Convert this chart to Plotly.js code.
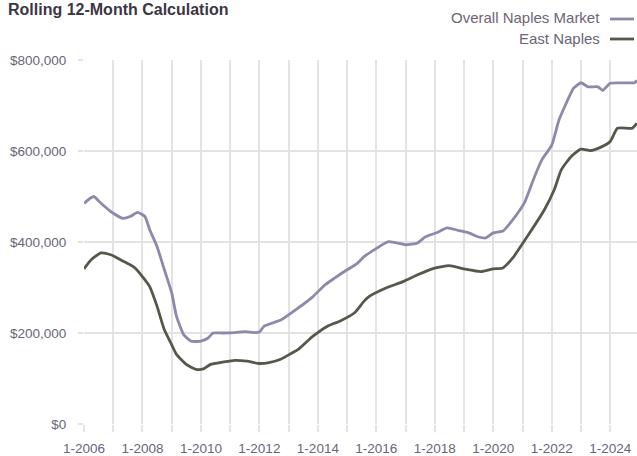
<!DOCTYPE html>
<html>
<head>
<meta charset="utf-8">
<script src="https://cdn.plot.ly/plotly-3.0.1.min.js"></script>
<style>html,body{margin:0;padding:0;background:#fff;}#chart{width:637px;height:456px;}</style>
</head>
<body>
<div id="chart"></div>
<script>
// Overall Naples Market (median price, rolling 12 months), values in $
const overallDates = ["2006-01","2006-05","2006-08","2006-12","2007-05","2007-08","2007-11","2008-02","2008-04","2008-07","2008-10","2009-01","2009-03","2009-06","2009-09","2010-01","2010-04","2010-06","2010-10","2011-03","2011-07","2011-11","2012-01","2012-03","2012-10","2013-05","2013-11","2014-04","2014-08","2015-01","2015-05","2015-08","2015-11","2016-06","2017-01","2017-06","2017-09","2018-02","2018-06","2018-11","2019-03","2019-07","2019-10","2020-01","2020-05","2020-08","2020-12","2021-02","2021-06","2021-09","2022-01","2022-04","2022-07","2022-10","2023-01","2023-04","2023-08","2023-10","2024-01","2024-11","2024-12"];
const overallValues = [485000,500000,485000,467000,452000,456000,465000,456000,427000,390000,339000,288000,237000,196000,182000,182000,189000,200000,200000,201000,203000,201000,202000,215000,229000,255000,280000,306000,321000,339000,352000,368000,379000,401000,394000,398000,411000,421000,431000,425000,420000,411000,409000,420000,424000,442000,471000,489000,544000,581000,613000,668000,705000,738000,750000,741000,741000,733000,749000,750000,755000];

// East Naples
const eastDates = ["2006-01","2006-04","2006-08","2006-12","2007-04","2007-08","2007-10","2008-01","2008-04","2008-07","2008-10","2009-01","2009-03","2009-07","2009-11","2010-02","2010-05","2010-10","2011-03","2011-08","2012-01","2012-05","2012-10","2013-02","2013-05","2013-11","2014-05","2014-10","2015-04","2015-08","2015-10","2016-05","2016-12","2017-06","2017-12","2018-07","2019-01","2019-08","2020-01","2020-05","2020-09","2021-03","2021-10","2022-02","2022-05","2022-09","2023-01","2023-05","2023-09","2024-01","2024-04","2024-10","2024-12"];
const eastValues = [341000,361000,376000,372000,361000,350000,343000,324000,302000,259000,207000,174000,153000,131000,120000,121000,131000,136000,140000,138000,133000,135000,143000,155000,164000,193000,215000,226000,244000,270000,280000,299000,313000,328000,341000,348000,341000,335000,341000,343000,365000,412000,471000,515000,559000,588000,604000,601000,608000,621000,650000,650000,661000];

const seriesNames = ["Overall Naples Market", "East Naples"];
const titleText = "Rolling 12-Month Calculation";
const yTickVals = [0, 200000, 400000, 600000, 800000];
const yTickText = ["$0", "$200,000", "$400,000", "$600,000", "$800,000"];

const colOverall = "#8d89ab";
const colEast = "#57574c";
const gridCol = "#e3e3e3";
const textCol = "#6a6677";
const FONT = "'Liberation Sans Narrow', 'Arial Narrow', 'Liberation Sans', Arial, sans-serif";

const traces = [
  {x: overallDates, y: overallValues, type: "scatter", mode: "lines", name: seriesNames[0],
   line: {color: colOverall, width: 2.8, shape: "spline", smoothing: 0.5}, showlegend: false},
  {x: eastDates, y: eastValues, type: "scatter", mode: "lines", name: seriesNames[1],
   line: {color: colEast, width: 2.8, shape: "spline", smoothing: 0.5}, showlegend: false}
];

// plot area: x 84..637, y 60..424
const L = 84, R = 637, T = 60, B = 424;
const px = v => (v - L) / (R - L);
const py = v => (B - v) / (B - T);

const layout = {
  width: 637, height: 456,
  margin: {l: L, r: 637 - R, t: T, b: 456 - B},
  paper_bgcolor: "#fff", plot_bgcolor: "#fff",
  font: {family: FONT, color: textCol, size: 14},
  showlegend: false,
  xaxis: {
    type: "date",
    range: ["2006-01-01", "2024-12-01"],
    tick0: "2006-01-01", dtick: "M24",
    tickformat: "%-m-%Y",
    showgrid: true, gridcolor: gridCol, gridwidth: 2,
    ticks: "outside", ticklen: 7, tickwidth: 2, tickcolor: gridCol,
    ticklabelstandoff: 5,
    minor: {dtick: "M12", showgrid: true, gridcolor: gridCol, gridwidth: 2, ticks: "outside", ticklen: 7, tickwidth: 2, tickcolor: gridCol},
    zeroline: false, showline: false,
    tickfont: {family: FONT, size: 13.5, color: textCol},
    fixedrange: true
  },
  yaxis: {
    range: [0, 800000],
    tickvals: yTickVals, ticktext: yTickText,
    showgrid: true, gridcolor: gridCol, gridwidth: 2,
    ticks: "outside", ticklen: 5, tickwidth: 2, tickcolor: gridCol,
    ticklabelstandoff: 9,
    zeroline: false, showline: false,
    tickfont: {family: FONT, size: 13.5, color: textCol},
    fixedrange: true
  },
  annotations: [
    {text: titleText, xref: "paper", yref: "paper", x: px(6), y: py(9.5), xanchor: "left", yanchor: "middle",
     showarrow: false, font: {family: FONT, size: 16, color: "#3b3744", weight: "bold"}},
    {text: seriesNames[0], xref: "paper", yref: "paper", x: px(602), y: py(17.5), xanchor: "right", yanchor: "middle",
     showarrow: false, font: {family: FONT, size: 15, color: textCol}},
    {text: seriesNames[1], xref: "paper", yref: "paper", x: px(602), y: py(38.5), xanchor: "right", yanchor: "middle",
     showarrow: false, font: {family: FONT, size: 15, color: textCol}}
  ],
  shapes: [
    {type: "line", xref: "paper", yref: "paper", x0: px(610), x1: px(634), y0: py(19), y1: py(19), line: {color: colOverall, width: 2.8}},
    {type: "line", xref: "paper", yref: "paper", x0: px(610), x1: px(634), y0: py(39), y1: py(39), line: {color: colEast, width: 2.8}}
  ]
};

Plotly.newPlot("chart", traces, layout, {staticPlot: true, displayModeBar: false});
</script>
</body>
</html>
